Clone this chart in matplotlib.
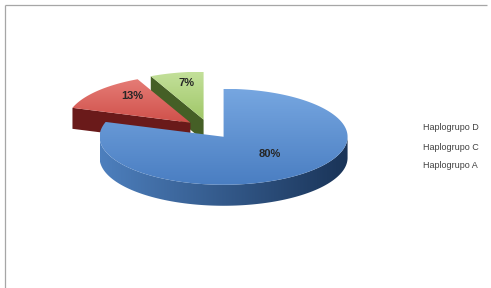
import numpy as np
import matplotlib.pyplot as plt
from matplotlib.patches import Polygon
from matplotlib.colors import to_rgb

# data
values = [80, 13, 7]
pct_labels = ["80%", "13%", "7%"]
legend_labels = ["Haplogrupo D", "Haplogrupo C", "Haplogrupo A"]

# styling (top face light/dark, wall light/dark)
top_light = ["#76a6e0", "#e57c76", "#c3e09a"]
top_dark = ["#4a7ec2", "#d0504a", "#a0c768"]
wall_light = ["#4d7fbd", "#8a2a28", "#5d7c36"]
wall_dark = ["#1a3458", "#6a1a1a", "#455f26"]

# pixel geometry of the projected pie
CX, CY = 209, 129
RX, RY = 124, 48
DEPTH = 21
EXPLODE = 0.2
LABEL_FRAC = 0.63
LABEL_LIFT = 7

fig = plt.figure(figsize=(4.91, 2.88), dpi=100)
ax = fig.add_axes([0, 0, 1, 1])
ax.set_xlim(0, 491)
ax.set_ylim(288, 0)
ax.axis("off")


def pt(cx, cy, ang, frac=1.0):
    t = np.radians(ang)
    return cx + frac * RX * np.cos(t), cy - frac * RY * np.sin(t)


def gradient_fill(poly, c1, c2, horizontal, z):
    # fill a polygon with a linear gradient from c1 to c2
    xy = poly.get_xy()
    n = 64
    ramp = np.linspace(0, 1, n)
    ramp = ramp[None, :, None] if horizontal else ramp[:, None, None]
    a, b = np.array(to_rgb(c1)), np.array(to_rgb(c2))
    img = a + (b - a) * ramp
    im = ax.imshow(img, extent=(xy[:, 0].min(), xy[:, 0].max(), xy[:, 1].max(), xy[:, 1].min()),
                   aspect="auto", interpolation="bilinear", zorder=z)
    im.set_clip_path(poly)


total = float(sum(values))
slices = []
cum = 0.0
for i, v in enumerate(values):
    a1 = 90 - cum / total * 360
    a0 = 90 - (cum + v) / total * 360
    cum += v
    mid = (a0 + a1) / 2
    ex, ey = pt(0, 0, mid, EXPLODE)
    slices.append(dict(i=i, a0=a0, a1=a1, mid=mid, cx=CX + ex, cy=CY + ey))

# back slices first
order = sorted(slices, key=lambda s: -np.sin(np.radians(s["mid"])))

for rank, s in enumerate(order):
    i, a0, a1, cx, cy = s["i"], s["a0"], s["a1"], s["cx"], s["cy"]
    base = 10 * (rank + 1)

    # radial faces that face the viewer
    for ang, normal in ((a0, a0 - 90), (a1, a1 + 90)):
        if -np.sin(np.radians(normal)) > 0.05:
            px, py = pt(cx, cy, ang)
            quad = [(cx, cy), (px, py), (px, py + DEPTH), (cx, cy + DEPTH)]
            ax.add_patch(Polygon(quad, closed=True, fc=wall_dark[i], ec="none", zorder=base))

    # outer wall (front half only), gradient left to right
    lo, hi = max(a0, -180), min(a1, 0)
    if a0 < -180 or a1 < 0:
        lo, hi = max(a0, -180), min(a1, 0)
    else:
        lo, hi = max(a0, 180), min(a1, 360)
    if hi > lo:
        angs = np.linspace(lo, hi, 200)
        wx, wy = pt(cx, cy, angs)
        wall = np.concatenate([np.column_stack([wx, wy]),
                               np.column_stack([wx, wy + DEPTH])[::-1]])
        wpoly = Polygon(wall, closed=True, fc="none", ec="none", zorder=base + 1)
        ax.add_patch(wpoly)
        gradient_fill(wpoly, wall_light[i], wall_dark[i], True, base + 1)

    # top face with a vertical gradient
    ex_, ey_ = pt(cx, cy, np.linspace(a0, a1, 200))
    top = np.column_stack([np.concatenate([[cx], ex_]), np.concatenate([[cy], ey_])])
    tpoly = Polygon(top, closed=True, fc="none", ec="none", zorder=base + 2)
    ax.add_patch(tpoly)
    gradient_fill(tpoly, top_light[i], top_dark[i], False, base + 2)

    lx, ly = pt(cx, cy, s["mid"], LABEL_FRAC)
    ax.text(lx, ly - LABEL_LIFT, pct_labels[i], ha="center", va="center",
            fontsize=8, fontweight="bold", color="#262626",
            family="Liberation Sans", zorder=100)

# legend (text only)
for k, lab in enumerate(legend_labels):
    ax.text(423, 128 + 19 * k, lab, ha="left", va="center", fontsize=6.5,
            color="#404040", family="Liberation Sans")

# frame lines
ax.plot([5.5, 5.5], [288, 4.5], color="#a6a6a6", lw=0.9, solid_capstyle="butt")
ax.plot([5.5, 487], [4.5, 4.5], color="#a6a6a6", lw=0.9, solid_capstyle="butt")

fig.savefig("out.png", dpi=100)
